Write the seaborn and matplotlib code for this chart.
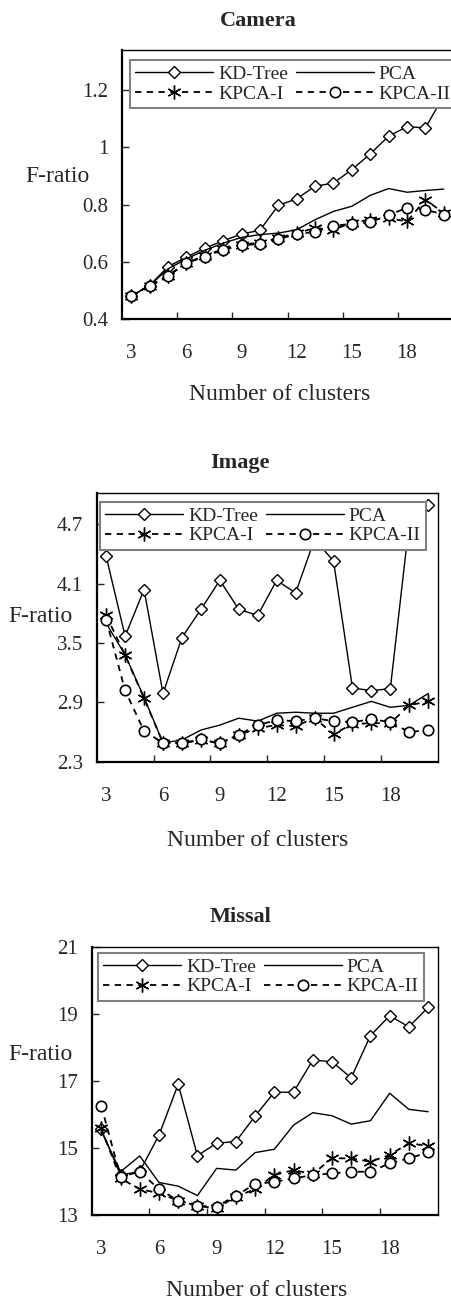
import matplotlib
matplotlib.use("Agg")
import matplotlib.pyplot as plt
import seaborn as sns
import pandas as pd

sns.set_theme(style="white")
plt.rcParams['font.family'] = ['Liberation Serif', 'DejaVu Serif']

clusters = list(range(3, 21))

# Camera
cam_kd = [0.481, 0.517, 0.583, 0.616, 0.648, 0.673, 0.697, 0.710, 0.797, 0.820, 0.864, 0.875, 0.922, 0.977, 1.039, 1.072, 1.068, 1.18]
cam_pca = [0.480, 0.517, 0.575, 0.610, 0.640, 0.665, 0.685, 0.695, 0.700, 0.712, 0.747, 0.776, 0.794, 0.832, 0.856, 0.843, 0.849, 0.854]
cam_k1 = [0.480, 0.517, 0.550, 0.597, 0.620, 0.645, 0.660, 0.667, 0.683, 0.700, 0.718, 0.712, 0.737, 0.747, 0.752, 0.741, 0.817, 0.770]
cam_k2 = [0.480, 0.517, 0.551, 0.595, 0.618, 0.642, 0.657, 0.663, 0.679, 0.697, 0.704, 0.726, 0.732, 0.738, 0.764, 0.788, 0.782, 0.765]

# Image
img_kd = [4.376, 3.569, 4.040, 2.990, 3.555, 3.840, 4.134, 3.840, 3.780, 4.134, 4.006, 4.550, 4.329, 3.047, 3.017, 3.040, 4.720, 4.898]
img_pca = [3.700, 3.380, 2.950, 2.490, 2.520, 2.620, 2.670, 2.740, 2.710, 2.790, 2.800, 2.790, 2.790, 2.850, 2.910, 2.850, 2.870, 2.990]
img_k1 = [3.780, 3.377, 2.940, 2.490, 2.485, 2.520, 2.485, 2.570, 2.640, 2.670, 2.660, 2.740, 2.580, 2.680, 2.690, 2.690, 2.870, 2.910]
img_k2 = [3.737, 3.020, 2.610, 2.490, 2.490, 2.525, 2.485, 2.575, 2.670, 2.720, 2.710, 2.740, 2.710, 2.700, 2.730, 2.700, 2.600, 2.620]

# Missal
mis_kd = [15.55, 14.19, 14.30, 15.38, 16.90, 14.77, 15.14, 15.19, 15.95, 16.66, 16.66, 17.62, 17.57, 17.09, 18.35, 18.94, 18.61, 19.19]
mis_pca = [15.50, 14.29, 14.76, 13.97, 13.86, 13.58, 14.39, 14.34, 14.86, 14.96, 15.68, 16.05, 15.96, 15.71, 15.81, 16.63, 16.15, 16.08]
mis_k1 = [15.58, 14.09, 13.77, 13.65, 13.43, 13.27, 13.20, 13.55, 13.77, 14.19, 14.34, 14.22, 14.69, 14.69, 14.59, 14.79, 15.14, 15.06]
mis_k2 = [16.25, 14.14, 14.29, 13.77, 13.43, 13.27, 13.25, 13.58, 13.92, 13.99, 14.09, 14.19, 14.24, 14.29, 14.29, 14.54, 14.69, 14.87]

series_names = ["KD-Tree", "PCA", "KPCA-I", "KPCA-II"]
titles = ["Camera", "Image", "Missal"]
ytick_vals = [[0.4, 0.6, 0.8, 1.0, 1.2], [2.3, 2.9, 3.5, 4.1, 4.7], [13, 15, 17, 19, 21]]
ytick_labels = [["0.4", "0.6", "0.8", "1", "1.2"], ["2.3", "2.9", "3.5", "4.1", "4.7"], ["13", "15", "17", "19", "21"]]
xtick_vals = [3, 6, 9, 12, 15, 18]
panels = [
    [cam_kd, cam_pca, cam_k1, cam_k2],
    [img_kd, img_pca, img_k1, img_k2],
    [mis_kd, mis_pca, mis_k1, mis_k2],
]

W, H = 451, 1302
fig = plt.figure(figsize=(W / 100, H / 100), dpi=100)

# layout in pixels: left, top, width, height
rects = [(122, 50, 331, 269), (96.7, 492.7, 341, 269), (91.7, 946.7, 346, 268.3)]
ylims = [(0.4, 1.34), (2.3, 5.02), (13, 21)]
title_pos = [(258, 21), (240, 463), (240, 917)]
ylabel_pos = [(57, 177), (40, 617), (40, 1055)]
xlabel_pos = [(280, 395), (258, 841), (257, 1290)]
legend_pos = [(130, 60), (100, 501.7), (98, 952.7)]

styles = [
    dict(color="black", lw=1.0, marker="D", ms=6.5, mfc="white", mec="black", mew=1.0, linestyle="-"),
    dict(color="black", lw=1.0, linestyle="-"),
    dict(color="black", lw=1.3, marker=(6, 2, 0), ms=10, mec="black", mew=1.0, linestyle=(0, (3.5, 3))),
    dict(color="black", lw=1.3, marker="o", ms=7.5, mfc="white", mec="black", mew=1.2, linestyle=(0, (3.5, 3))),
]

for i, data in enumerate(panels):
    l, t, w, h = rects[i]
    ax = fig.add_axes([l / W, 1 - (t + h) / H, w / W, h / H])
    for name, vals, st in zip(series_names, data, styles):
        df = pd.DataFrame({"k": clusters, "v": vals})
        sns.lineplot(data=df, x="k", y="v", ax=ax, label=name, **st)
    lines = ax.get_lines()[:4]
    ax.set_xlim(2.5, 20.5)
    ax.set_ylim(*ylims[i])
    ax.set_xlabel("")
    ax.set_ylabel("")
    ax.set_yticks(ytick_vals[i])
    ax.set_yticklabels(ytick_labels[i])
    ax.set_xticks(xtick_vals)
    ax.set_xticklabels([str(v) for v in xtick_vals])
    ax.set_xticks([5.5, 8.5, 11.5, 14.5, 17.5], minor=True)
    ax.tick_params(axis="x", which="major", length=0, pad=18, labelsize=15)
    ax.tick_params(axis="x", which="minor", direction="in", length=5, width=1.0, bottom=True)
    ax.tick_params(axis="y", which="major", direction="in", length=5, width=1.0, pad=10, labelsize=15, left=True)
    for side in ["left", "bottom"]:
        ax.spines[side].set_linewidth(1.6)
    for side in ["top", "right"]:
        ax.spines[side].set_linewidth(1.0)
    for sp in ax.spines.values():
        sp.set_color("black")
    ax.set_facecolor("white")
    # order so that rows read: KD-Tree, PCA / KPCA-I, KPCA-II
    order = [0, 2, 1, 3]
    lx, ly = legend_pos[i]
    leg = ax.legend([lines[j] for j in order], [series_names[j] for j in order],
                    ncol=2, loc="upper left",
                    bbox_to_anchor=(lx / W, 1 - ly / H), bbox_transform=fig.transFigure,
                    borderaxespad=0, fontsize=14, handlelength=4.0, handletextpad=0.25,
                    columnspacing=0.4, labelspacing=0.1, borderpad=0.28,
                    frameon=True, fancybox=False, framealpha=1.0)
    leg.get_frame().set_edgecolor("#808080")
    leg.get_frame().set_linewidth(1.5)
    leg.set_zorder(5)

    tx, ty = title_pos[i]
    fig.text(tx / W, 1 - ty / H, titles[i], ha="center", va="center", fontsize=16, fontweight="bold")
    yx, yy = ylabel_pos[i]
    fig.text(yx / W, 1 - yy / H, "F-ratio", ha="center", va="center", fontsize=17)
    xx, xy = xlabel_pos[i]
    fig.text(xx / W, 1 - xy / H, "Number of clusters", ha="center", va="center", fontsize=17)

fig.savefig("out.png", dpi=100, facecolor="white")
